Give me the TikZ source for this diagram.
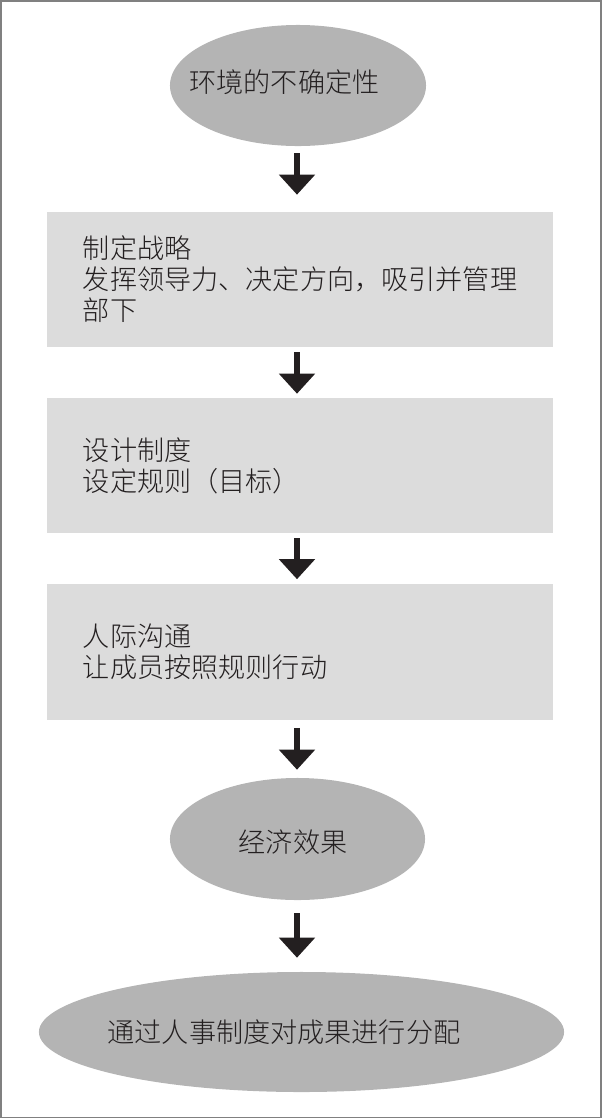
\documentclass[tikz,border=0pt]{standalone}
\usepackage{fontspec}
\setmainfont{Noto Sans CJK SC}[UprightFont={* Light}]
\usetikzlibrary{shapes.geometric,arrows.meta}
\definecolor{ovalgray}{HTML}{B4B4B4}
\definecolor{boxgray}{HTML}{DCDCDC}
\definecolor{inkblack}{HTML}{231F20}
\definecolor{framegray}{HTML}{808080}
\tikzset{
    TX/.style ={text=inkblack, font=\fontsize{19.3pt}{22pt}\selectfont, inner sep=0pt},
    EL/.style ={ellipse, fill=ovalgray, inner sep=0pt},
    BX/.style ={TX, rectangle, fill=boxgray, minimum width=12.65cm, minimum height=3.375cm, text width=10.85cm, inner xsep=0.9cm, align=left},
    AR/.style ={draw=inkblack, line width=0.14cm, -{Triangle[length=0.5cm,width=0.875cm]}}}
\begin{document}
\begin{tikzpicture}[x=0.025cm, y=-0.025cm]
        \useasboundingbox (0,0) rectangle (602,1119);
        \draw[framegray, line width=0.04cm] (0.8,0.8) rectangle (601.2,1117.6);
        % ovals
        \node[EL, minimum width=6.4cm, minimum height=3.025cm] (env) at (298,85.5) {};
        \node[EL, minimum width=6.375cm, minimum height=3.05cm] (gain) at (297.5,839) {};
        \node[EL, minimum width=13.125cm, minimum height=3cm] (share) at (301.5,1032) {};
        \node[TX] (envtx) at (284.5,82) {环境的不确定性};
        \node[TX] (gaintx) at (293,842) {经济效果};
        \node[TX] (sharetx) at (284,1032) {通过人事制度对成果进行分配};
        % boxes
        \node[BX] (plan) at (300,279.5) {制定战略\\发挥领导力、决定方向，吸引并管理\\部下};
        \node[BX] (rule) at (300,465.5) {设计制度\\设定规则（目标）};
        \node[BX] (talk) at (300,652) {人际沟通\\让成员按照规则行动};
        % arrows
        \coordinate (ax) at (297,0);
        \draw[AR, shorten <=0.175cm, shorten >=0.425cm] (env.south -| ax) -- (plan.north -| ax);
        \draw[AR, shorten <=0.125cm, shorten >=0.1cm] (plan.south -| ax) -- (rule.north -| ax);
        \draw[AR, shorten <=0.125cm, shorten >=0.125cm] (rule.south -| ax) -- (talk.north -| ax);
        \draw[AR, shorten <=0.2cm, shorten >=0.2cm] (talk.south -| ax) -- (gain.north -| ax);
        \draw[AR, shorten <=0.325cm, shorten >=0.35cm] (gain.south -| ax) -- (share.north -| ax);
    \end{tikzpicture}
\end{document}
